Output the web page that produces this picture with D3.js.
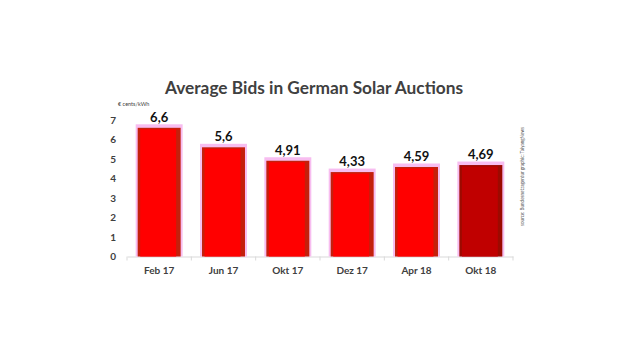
<!DOCTYPE html>
<html><head><meta charset="utf-8">
<script src="https://cdn.jsdelivr.net/npm/d3@7"></script>
<style>body{margin:0;background:#fff}svg{display:block}</style>
</head><body>
<svg id="c" width="640" height="360"></svg>
<script>
const categories = ["Feb 17","Jun 17","Okt 17","Dez 17","Apr 18","Okt 18"];
const values = [6.6, 5.6, 4.91, 4.33, 4.59, 4.69];
const valueLabels = ["6,6","5,6","4,91","4,33","4,59","4,69"];
const yTicks = [0,1,2,3,4,5,6,7];
const highlighted = "Okt 18";

const svg = d3.select("#c");
const font = "Lato, 'Open Sans', sans-serif";
const x = d3.scaleBand().domain(categories).range([127, 513]).paddingInner(0.27).paddingOuter(0.135);
const y = d3.scaleLinear().domain([0, 7]).range([256.5, 120]);

svg.append("text").attr("x", 314).attr("y", 94).attr("text-anchor", "middle")
  .attr("font-family", font).attr("font-weight", "bold").attr("font-size", 17.3).attr("fill", "#404040")
  .text("Average Bids in German Solar Auctions");
svg.append("text").attr("x", 118).attr("y", 106).attr("font-family", font).attr("font-size", 5.5).attr("fill", "#404040").text("€ cents/kWh");

svg.append("g").selectAll("text").data(yTicks).join("text")
  .attr("x", 116).attr("y", d => y(d) + 3.5).attr("text-anchor", "end")
  .attr("font-family", font).attr("font-weight", "bold").attr("font-size", 10).attr("fill", "#404040").text(d => d);

const xAxis = d3.axisBottom(x).tickSize(0).tickFormat("");
const ax = svg.append("g").attr("transform", `translate(0,${y(0)})`).call(xAxis);
ax.select(".domain").attr("stroke", "#d9d9d9");
ax.selectAll(".bnd").data(d3.range(categories.length + 1)).join("line")
  .attr("x1", i => 127 + i * x.step()).attr("x2", i => 127 + i * x.step())
  .attr("y1", 0).attr("y2", 4).attr("stroke", "#d9d9d9");

const g = svg.append("g");
const bars = g.selectAll("g").data(categories).join("g");
bars.append("rect").attr("x", d => x(d)).attr("width", x.bandwidth())
  .attr("y", (d, i) => y(values[i]) - 3.5).attr("height", (d, i) => y(0) - y(values[i]) + 3.5)
  .attr("fill", "#f7bdf0");
bars.append("rect").attr("x", d => x(d) + 2).attr("width", x.bandwidth() - 4)
  .attr("y", (d, i) => y(values[i])).attr("height", (d, i) => y(0) - y(values[i]))
  .attr("fill", d => d === highlighted ? "#9c0a00" : "#c4200c");
bars.append("rect").attr("x", d => x(d) + 4.5).attr("width", x.bandwidth() - 11)
  .attr("y", (d, i) => y(values[i]) + 1.5).attr("height", (d, i) => y(0) - y(values[i]) - 1.5)
  .attr("fill", d => d === highlighted ? "#c00000" : "#ff0000");

g.selectAll(".vl").data(categories).join("text")
  .attr("x", d => x(d) + x.bandwidth() / 2).attr("y", (d, i) => y(values[i]) - 6)
  .attr("text-anchor", "middle").attr("font-family", font).attr("font-weight", "bold")
  .attr("font-size", 13).attr("fill", "#111").text((d, i) => valueLabels[i]);

svg.append("g").selectAll("text").data(categories).join("text")
  .attr("x", d => x(d) + x.bandwidth() / 2).attr("y", 274)
  .attr("text-anchor", "middle").attr("font-family", font).attr("font-weight", "bold")
  .attr("font-size", 10).attr("fill", "#404040").text(d => d);

svg.append("text").attr("transform", "translate(524,226) rotate(-90)")
  .attr("font-family", font).attr("font-size", 5).attr("fill", "#595959")
  .attr("textLength", 99).attr("lengthAdjust", "spacingAndGlyphs")
  .text("source: Bundesnetzagentur graphic: TaiyangNews");
</script>
</body></html>
